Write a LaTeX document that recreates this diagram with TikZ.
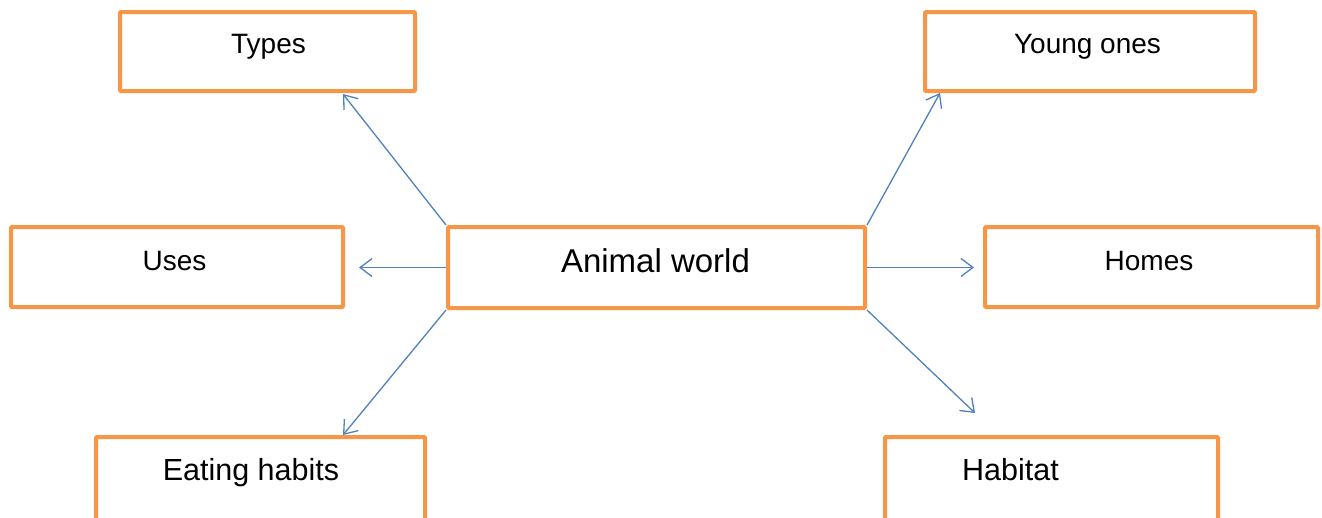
\documentclass[tikz,border=0pt]{standalone}
\usepackage{fontspec}
\setmainfont{Liberation Sans}
\usetikzlibrary{arrows.meta}
\definecolor{boxorange}{HTML}{F79646}
\definecolor{arrowblue}{HTML}{4F81BD}
\begin{document}
\begin{tikzpicture}[x=1pt,y=-1pt,
  box/.style={draw=boxorange, line width=4pt, rectangle, inner sep=0pt, rounded corners=1pt},
  lbl/.style={anchor=base, inner sep=0pt, font=\fontsize{28}{32}\selectfont},
  widelbl/.style={anchor=base, inner sep=0pt, font=\fontsize{30.5}{34}\selectfont},
  biglbl/.style={anchor=base, inner sep=0pt, font=\fontsize{33}{38}\selectfont},
  conn/.style={draw=arrowblue, line width=1.3pt, -{Straight Barb[length=12pt,width=18pt,line width=1.3pt]}}]
\useasboundingbox (0,0) rectangle (1322,517);
\clip (0,0) rectangle (1322,517);
% boxes
\node[box, minimum width=295pt, minimum height=79pt] (types) at (267.5,51.5) {};
\node[box, minimum width=330pt, minimum height=79pt] (young) at (1090,51.5) {};
\node[box, minimum width=332pt, minimum height=80pt] (uses) at (177,267) {};
\node[box, minimum width=417pt, minimum height=81pt] (aw) at (656.5,267.5) {};
\node[box, minimum width=333pt, minimum height=80pt] (homes) at (1151.5,267) {};
\node[box, minimum width=329pt, minimum height=100pt] (eat) at (260.5,487) {};
\node[box, minimum width=333pt, minimum height=100pt] (hab) at (1051.5,487) {};
% labels
\node[lbl] (tTypes) at (268.5,53) {Types};
\node[lbl] (tYoung) at (1087.5,53) {Young ones};
\node[lbl] (tUses) at (174.5,270) {Uses};
\node[biglbl] (tAw) at (655.5,272) {Animal world};
\node[lbl] (tHomes) at (1149,270) {Homes};
\node[widelbl] (tEat) at (251,480) {Eating habits};
\node[widelbl] (tHab) at (1010.5,480) {Habitat};
% arrow tips
\coordinate (pTypes) at (343,94);
\coordinate (pYoung) at (940,93);
\coordinate (pUses) at (359,267.5);
\coordinate (pHomes) at (974,267.5);
\coordinate (pEat) at (343,435);
\coordinate (pHab) at (975,413);
% connectors
\draw[conn] (aw.north west) -- (pTypes);
\draw[conn] (aw.north east) -- (pYoung);
\draw[conn] (aw.west) -- (pUses);
\draw[conn] (aw.east) -- (pHomes);
\draw[conn] (aw.south west) -- (pEat);
\draw[conn] (aw.south east) -- (pHab);
\end{tikzpicture}
\end{document}
